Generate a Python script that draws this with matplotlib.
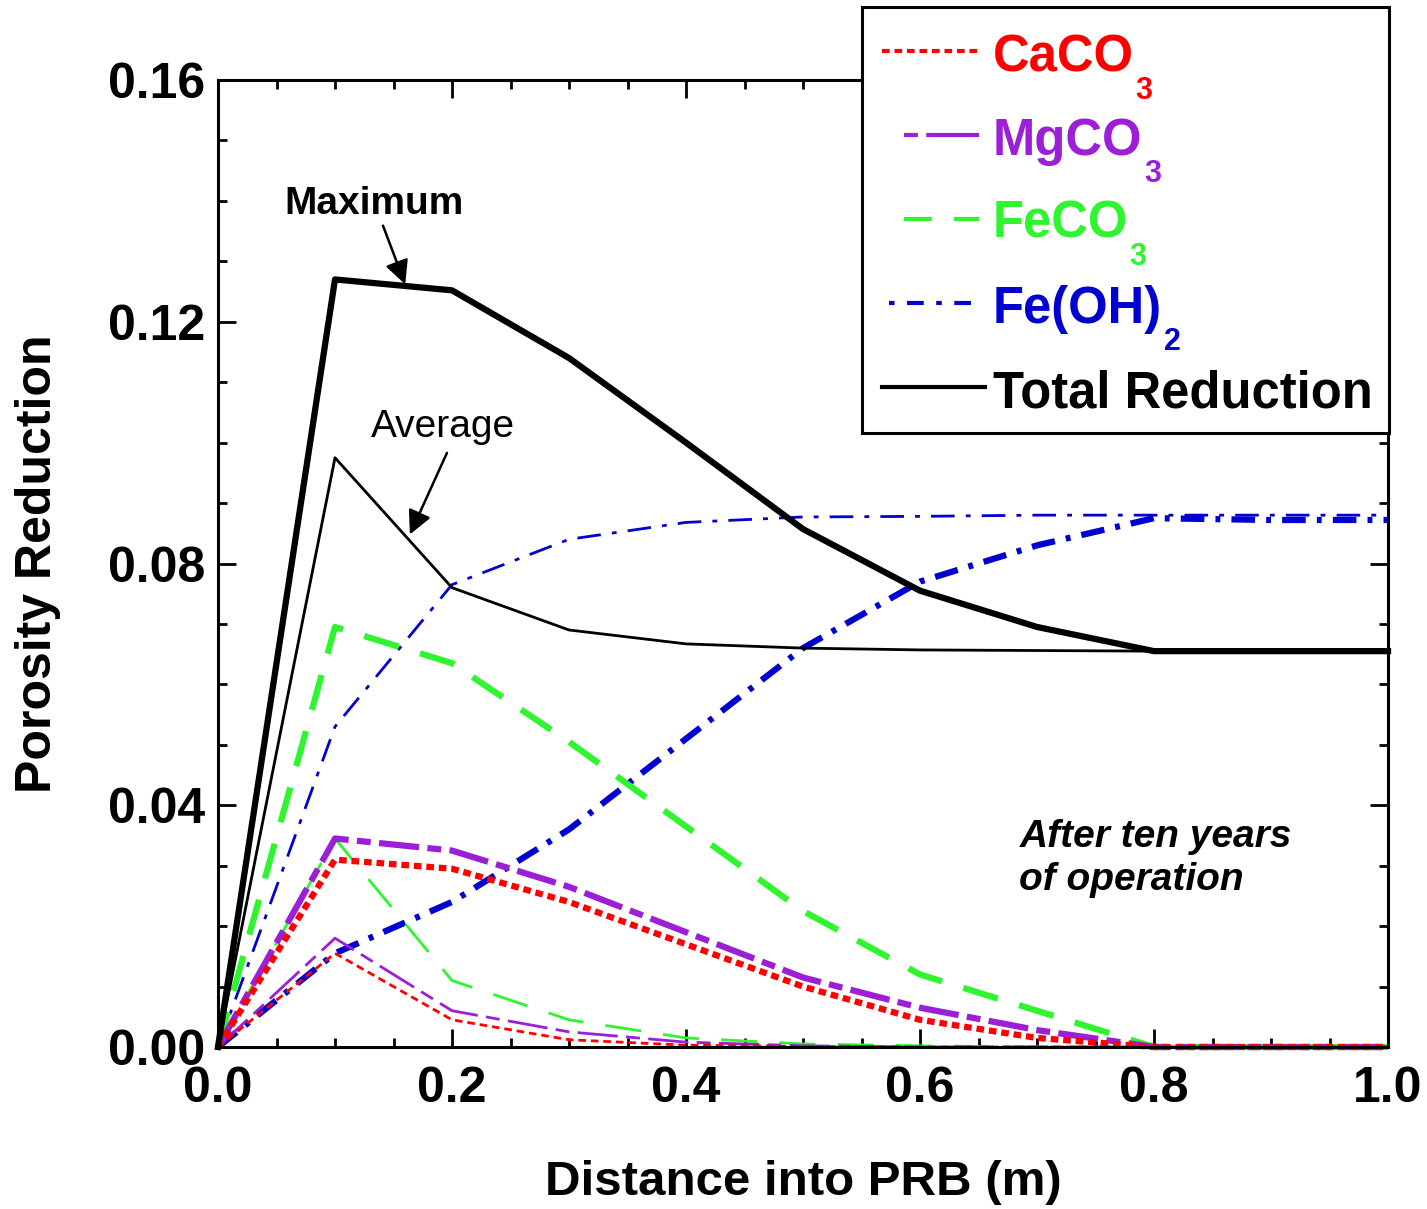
import matplotlib
matplotlib.use('Agg')
import matplotlib.pyplot as plt
from matplotlib.lines import Line2D
from matplotlib.patches import Rectangle
from matplotlib.ticker import MultipleLocator, FormatStrFormatter

plt.rcParams['font.family'] = ['Liberation Sans', 'DejaVu Sans']
plt.rcParams['lines.scale_dashes'] = False

# distance into the barrier (m)
distance = [0.0, 0.1, 0.2, 0.3, 0.4, 0.5, 0.6, 0.7, 0.8, 0.9, 1.0]

# porosity reduction, maximum (thick) and average (thin)
caco3_max = [0, 0.0310, 0.0295, 0.0240, 0.0170, 0.0100, 0.0045, 0.0015, 0, 0, 0]
caco3_avg = [0, 0.0155, 0.0045, 0.0012, 0.0003, 0.0001, 0, 0, 0, 0, 0]
mgco3_max = [0, 0.0345, 0.0325, 0.0265, 0.0190, 0.0115, 0.0065, 0.0028, 0, 0, 0]
mgco3_avg = [0, 0.0180, 0.0060, 0.0025, 0.0008, 0.0002, 0, 0, 0, 0, 0]
feco3_max = [0, 0.0695, 0.0635, 0.0505, 0.0365, 0.0225, 0.0120, 0.0060, 0, 0, 0]
feco3_avg = [0, 0.0345, 0.0110, 0.0045, 0.0015, 0.0005, 0.0002, 0, 0, 0, 0]
feoh2_max = [0, 0.0155, 0.0240, 0.0360, 0.0510, 0.0660, 0.0770, 0.0830, 0.0875, 0.0872, 0.0872]
feoh2_avg = [0, 0.0530, 0.0765, 0.0840, 0.0868, 0.0877, 0.0878, 0.0880, 0.0880, 0.0880, 0.0880]
total_max = [0, 0.1270, 0.1252, 0.1140, 0.1000, 0.0857, 0.0755, 0.0695, 0.0655, 0.0655, 0.0655]
total_avg = [0, 0.0975, 0.0760, 0.0690, 0.0667, 0.0660, 0.0657, 0.0656, 0.0655, 0.0655, 0.0655]

legend_names = ['CaCO', 'MgCO', 'FeCO', 'Fe(OH)', 'Total Reduction']
legend_subs = ['3', '3', '3', '2', '']

red = '#FF0000'
purple = '#9A1FD6'
green = '#2EF52E'
blue = '#0000D0'

st_ca = (0, (5.5, 3.5))
st_mg = (0, (29, 6, 10, 6))
st_fe = (0, (26, 16))
st_oh = (0, (17, 8, 3.5, 8))

W, H = 1427, 1209
fig = plt.figure(figsize=(W / 100, H / 100), dpi=100)
ax = fig.add_axes([218 / W, 1 - 1047 / H, (1388 - 218) / W, (1047 - 80) / H])

thick, thin = 4.5, 2.0
ax.plot(distance, feoh2_avg, color=blue, lw=thin, linestyle=st_oh, clip_on=False)
ax.plot(distance, feoh2_max, color=blue, lw=thick, linestyle=st_oh, clip_on=False)
ax.plot(distance, feco3_avg, color=green, lw=thin, linestyle=st_fe, clip_on=False)
ax.plot(distance, feco3_max, color=green, lw=thick, linestyle=st_fe, clip_on=False)
ax.plot(distance, mgco3_avg, color=purple, lw=thin, linestyle=st_mg, clip_on=False)
ax.plot(distance, mgco3_max, color=purple, lw=thick, linestyle=st_mg, clip_on=False)
ax.plot(distance, caco3_avg, color=red, lw=thin, linestyle=st_ca, clip_on=False)
ax.plot(distance, caco3_max, color=red, lw=thick, linestyle=st_ca, clip_on=False)
ax.plot(distance, total_avg, color='black', lw=thin, clip_on=False)
ax.plot(distance, total_max, color='black', lw=thick, clip_on=False)

ax.set_xlim(0, 1.0)
ax.set_ylim(0, 0.16)
ax.xaxis.set_major_locator(MultipleLocator(0.2))
ax.xaxis.set_minor_locator(MultipleLocator(0.05))
ax.yaxis.set_major_locator(MultipleLocator(0.04))
ax.yaxis.set_minor_locator(MultipleLocator(0.01))
ax.xaxis.set_major_formatter(FormatStrFormatter('%.1f'))
ax.yaxis.set_major_formatter(FormatStrFormatter('%.2f'))
ax.tick_params(which='both', direction='in', top=True, right=True, width=2)
ax.tick_params(which='major', length=13, labelsize=36)
ax.tick_params(which='minor', length=6.5)
ax.tick_params(axis='x', which='major', pad=14)
ax.tick_params(axis='y', which='major', pad=9)
for lab in ax.get_xticklabels() + ax.get_yticklabels():
    lab.set_fontweight('bold')
for sp in ax.spines.values():
    sp.set_linewidth(2.2)

ax.set_xlabel('Distance into PRB (m)', fontsize=35.5, fontweight='bold', labelpad=34)
ax.set_ylabel('Porosity Reduction', fontsize=36, fontweight='bold', labelpad=34)

arrow = dict(arrowstyle='-|>', color='black', lw=1.8, mutation_scale=36,
             shrinkA=0, shrinkB=0)
ax.text(0.133, 0.1395, 'Maximum', fontsize=28, fontweight='bold',
        ha='center', va='center')
ax.annotate('', xy=(0.160, 0.1262), xytext=(0.141, 0.1359), arrowprops=arrow)
ax.text(0.192, 0.1026, 'Average', fontsize=28, ha='center', va='center')
ax.annotate('', xy=(0.164, 0.0848), xytext=(0.1957, 0.0983), arrowprops=arrow)
ax.text(0.685, 0.0312, 'After ten years\nof operation', fontsize=28,
        fontweight='bold', fontstyle='italic', ha='left', va='center',
        linespacing=1.27)

# legend drawn by hand so the subscripts can sit low like the original
box = Rectangle((862 / W, 1 - 433 / H), (1389 - 862) / W, (433 - 7) / H,
                transform=fig.transFigure, facecolor='white',
                edgecolor='black', lw=2.2, zorder=5)
fig.add_artist(box)

leg_colors = [red, purple, green, blue, 'black']
leg_styles = [st_ca, (0, (10, 6, 40, 6)), (0, (20, 16)), (0, (4, 9, 12, 9)), '-']
leg_lines = [(882, 981, 51), (904, 979, 135), (904, 979, 219), (889, 972, 303), (882, 985, 387)]
leg_base = [72, 155, 238, 323, 407]
for name, sub, c, ls, (x0, x1, yl), yb in zip(legend_names, legend_subs, leg_colors,
                                              leg_styles, leg_lines, leg_base):
    fig.add_artist(Line2D([x0 / W, x1 / W], [1 - yl / H, 1 - yl / H], color=c,
                          lw=3, linestyle=ls, transform=fig.transFigure, zorder=6))
    t = fig.text(993 / W, 1 - yb / H, name, fontsize=36.5, fontweight='bold',
                 color=c, ha='left', va='baseline', zorder=6)
    if sub:
        fig.add_artist(plt.Annotation(sub, xy=(1, 0), xycoords=t, xytext=(1, 5),
                                      textcoords='offset points', fontsize=22,
                                      fontweight='bold', color=c, ha='left',
                                      va='top', zorder=6))

fig.savefig('out.png', dpi=100)
